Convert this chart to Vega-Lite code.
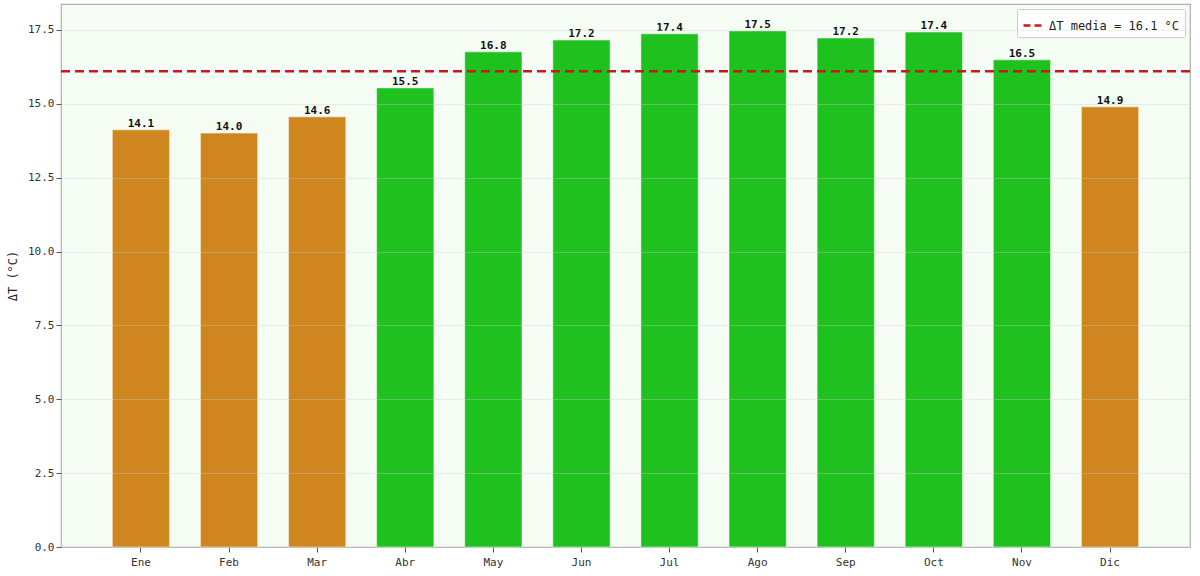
{
  "$schema": "https://vega.github.io/schema/vega-lite/v6.json",
  "width": 1129,
  "height": 543,
  "autosize": "none",
  "padding": {"left": 61, "top": 4, "right": 10, "bottom": 29},
  "background": "#ffffff",
  "datasets": {
    "meses": [
      {"mes": "Ene", "dT": 14.12, "grupo": "bajo"},
      {"mes": "Feb", "dT": 14.01, "grupo": "bajo"},
      {"mes": "Mar", "dT": 14.56, "grupo": "bajo"},
      {"mes": "Abr", "dT": 15.54, "grupo": "alto"},
      {"mes": "May", "dT": 16.76, "grupo": "alto"},
      {"mes": "Jun", "dT": 17.16, "grupo": "alto"},
      {"mes": "Jul", "dT": 17.37, "grupo": "alto"},
      {"mes": "Ago", "dT": 17.47, "grupo": "alto"},
      {"mes": "Sep", "dT": 17.23, "grupo": "alto"},
      {"mes": "Oct", "dT": 17.43, "grupo": "alto"},
      {"mes": "Nov", "dT": 16.49, "grupo": "alto"},
      {"mes": "Dic", "dT": 14.9, "grupo": "bajo"}
    ],
    "media": [
      {"media": 16.1, "serie": "ΔT media = 16.1 °C"}
    ]
  },
  "resolve": {"scale": {"color": "independent"}, "legend": {"color": "independent"}},
  "layer": [
    {
      "data": {"name": "meses"},
      "mark": {"type": "bar", "stroke": "#ffffff", "strokeOpacity": 0.5, "strokeWidth": 1},
      "encoding": {
        "x": {
          "field": "mes",
          "type": "nominal",
          "sort": null,
          "scale": {"paddingInner": 0.35, "paddingOuter": 0.5825},
          "axis": {
            "title": null,
            "labelAngle": 0,
            "labelPadding": 4,
            "domain": false
          }
        },
        "y": {
          "field": "dT",
          "type": "quantitative",
          "scale": {"domain": [0, 18.38], "nice": false},
          "axis": {
            "title": "ΔT (°C)",
            "values": [0, 2.5, 5, 7.5, 10, 12.5, 15, 17.5],
            "format": ".1f",
            "grid": true,
            "zindex": 1,
            "domain": false,
            "titlePadding": 8
          }
        },
        "color": {
          "field": "grupo",
          "type": "nominal",
          "scale": {"domain": ["bajo", "alto"], "range": ["#d0861f", "#1fc11f"]},
          "legend": null
        }
      }
    },
    {
      "data": {"name": "meses"},
      "mark": {
        "type": "text",
        "baseline": "bottom",
        "dy": -1,
        "font": "DejaVu Sans Mono",
        "fontSize": 11,
        "fontWeight": "bold",
        "color": "#111111"
      },
      "encoding": {
        "x": {"field": "mes", "type": "nominal", "sort": null},
        "y": {"field": "dT", "type": "quantitative"},
        "text": {"field": "dT", "type": "quantitative", "format": ".1f"}
      }
    },
    {
      "data": {"name": "media"},
      "mark": {"type": "rule", "strokeDash": [9, 5], "strokeWidth": 2.5},
      "encoding": {
        "y": {"field": "media", "type": "quantitative"},
        "color": {
          "field": "serie",
          "type": "nominal",
          "scale": {"range": ["#c41a1a"]},
          "legend": {
            "title": null,
            "orient": "top-right",
            "offset": 5,
            "symbolType": "stroke",
            "symbolStrokeWidth": 2.5,
            "symbolDash": [7, 4],
            "symbolSize": 400,
            "labelFont": "DejaVu Sans Mono",
            "labelFontSize": 12,
            "labelColor": "#222222",
            "fillColor": "#ffffff",
            "strokeColor": "#cccccc",
            "padding": 5,
            "cornerRadius": 2
          }
        }
      }
    }
  ],
  "config": {
    "view": {"fill": "#f4fcf3", "stroke": "#b0b0b0", "strokeWidth": 1.2},
    "axis": {
      "labelFont": "DejaVu Sans Mono",
      "labelFontSize": 11,
      "labelColor": "#333333",
      "titleFont": "DejaVu Sans Mono",
      "titleFontSize": 12,
      "titleFontWeight": "normal",
      "titleColor": "#222222",
      "tickColor": "#555555",
      "tickSize": 5,
      "gridColor": "#c8d0c8",
      "gridOpacity": 0.35
    }
  }
}
